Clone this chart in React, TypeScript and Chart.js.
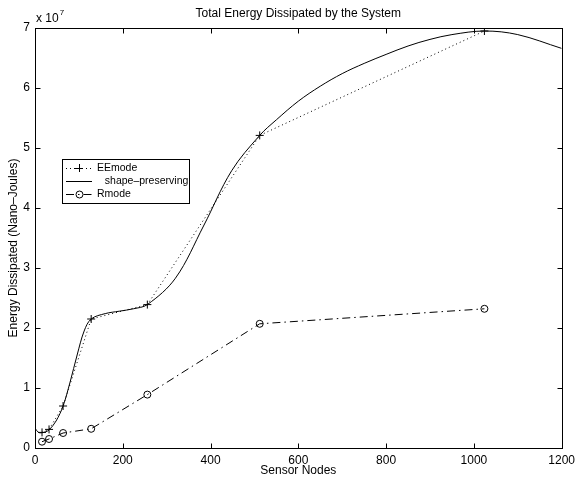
import React, { useEffect, useRef } from "react";
import { Chart, registerables } from "chart.js";

Chart.register(...registerables);

// Sensor node counts (x) and energies (Nano-Joules)
const nodes = [16, 32, 64, 128, 256, 512, 1024];
const eeMode = [2.6e6, 3.1e6, 7.0e6, 2.15e7, 2.39e7, 5.21e7, 6.95e7];
const rMode = [1.05e6, 1.5e6, 2.5e6, 3.2e6, 8.9e6, 2.07e7, 2.32e7];

// Shape-preserving fit curve, samples
const fitNodes = [0, 8, 16, 24, 32, 48, 64, 80, 96, 112, 128, 160, 192, 224, 256, 320, 384, 448, 512, 550, 600, 650, 700, 750, 800, 850, 900, 950, 1024, 1100, 1200];
const fitEnergy = [3.3e6, 2.6e6, 2.55e6, 2.7e6, 3.0e6, 4.5e6, 7.0e6, 1.1e7, 1.55e7, 1.95e7, 2.15e7, 2.24e7, 2.28e7, 2.32e7, 2.39e7, 2.83e7, 3.7e7, 4.62e7, 5.21e7, 5.47e7, 5.78e7, 6.03e7, 6.24e7, 6.41e7, 6.56e7, 6.7e7, 6.81e7, 6.89e7, 6.95e7, 6.89e7, 6.66e7];

const xTickValues = [0, 200, 400, 600, 800, 1000, 1200];
const yTickValues = [0, 1e7, 2e7, 3e7, 4e7, 5e7, 6e7, 7e7];

const titleText = "Total Energy Dissipated by the System";
const xTitle = "Sensor Nodes";
const yTitle = "Energy Dissipated (Nano\u2013Joules)";
const legendLabels = ["EEmode", "  shape\u2013preserving", "Rmode"];

const FONT = "'Liberation Sans', Arial, Helvetica, sans-serif";

export default function App() {
  const ref = useRef<HTMLCanvasElement>(null);

  useEffect(() => {
    document.body.style.margin = "0";
    const canvas = ref.current!;
    const pts = (xs: number[], ys: number[]) => xs.map((x, i) => ({ x, y: ys[i] }));

    const decor = {
      id: "decor",
      afterDraw(chart: any) {
        const { ctx, chartArea: a, scales } = chart;
        const sx = scales.x;
        const sy = scales.y;
        const L = Math.round(a.left) + 0.5;
        const R = Math.round(a.right) + 0.5;
        const T = Math.round(a.top) + 0.5;
        const B = Math.round(a.bottom) + 0.5;
        ctx.save();
        ctx.setLineDash([]);
        ctx.strokeStyle = "#000";
        ctx.lineWidth = 1;
        ctx.strokeRect(L, T, R - L, B - T);
        const tl = 5;
        ctx.beginPath();
        xTickValues.slice(1, -1).forEach((v) => {
          const px = Math.round(sx.getPixelForValue(v)) + 0.5;
          ctx.moveTo(px, B);
          ctx.lineTo(px, B - tl);
          ctx.moveTo(px, T);
          ctx.lineTo(px, T + tl);
        });
        yTickValues.slice(1, -1).forEach((v) => {
          const py = Math.round(sy.getPixelForValue(v)) + 0.5;
          ctx.moveTo(L, py);
          ctx.lineTo(L + tl, py);
          ctx.moveTo(R, py);
          ctx.lineTo(R - tl, py);
        });
        ctx.stroke();

        // Titles
        ctx.fillStyle = "#000";
        ctx.font = `12px ${FONT}`;
        ctx.textAlign = "center";
        ctx.textBaseline = "middle";
        const cx = (a.left + a.right) / 2;
        ctx.fillText(titleText, cx, 14);
        ctx.fillText(xTitle, cx, 471);
        ctx.save();
        ctx.translate(14, (a.top + a.bottom) / 2 + 10);
        ctx.rotate(-Math.PI / 2);
        ctx.fillText(yTitle, 0, 0);
        ctx.restore();

        // Exponent label
        ctx.textAlign = "left";
        ctx.font = `12px ${FONT}`;
        ctx.fillText("x 10", 36, 19);
        const w = ctx.measureText("x 10").width;
        ctx.font = `8px ${FONT}`;
        ctx.fillText("7", 36 + w + 1, 13);

        // Legend
        const bx = 62.5, by = 159.5, bw = 127, bh = 44;
        ctx.fillStyle = "#fff";
        ctx.fillRect(bx, by, bw, bh);
        ctx.strokeStyle = "#000";
        ctx.strokeRect(bx, by, bw, bh);
        const rows = [168, 181, 194];
        const lx0 = 66, lx1 = 92, mx = 79;
        ctx.lineWidth = 1;
        ctx.setLineDash([1, 3]);
        ctx.beginPath();
        ctx.moveTo(lx0, rows[0] + 0.5);
        ctx.lineTo(lx1, rows[0] + 0.5);
        ctx.stroke();
        ctx.setLineDash([]);
        ctx.beginPath();
        ctx.moveTo(mx - 4, rows[0] + 0.5);
        ctx.lineTo(mx + 4, rows[0] + 0.5);
        ctx.moveTo(mx + 0.5, rows[0] - 4);
        ctx.lineTo(mx + 0.5, rows[0] + 4);
        ctx.stroke();
        ctx.beginPath();
        ctx.moveTo(lx0, rows[1] + 0.5);
        ctx.lineTo(lx1, rows[1] + 0.5);
        ctx.stroke();
        ctx.setLineDash([8, 4, 1.5, 4]);
        ctx.beginPath();
        ctx.moveTo(lx0, rows[2] + 0.5);
        ctx.lineTo(lx1, rows[2] + 0.5);
        ctx.stroke();
        ctx.setLineDash([]);
        ctx.beginPath();
        ctx.arc(mx + 0.5, rows[2] + 0.5, 3.5, 0, Math.PI * 2);
        ctx.stroke();

        ctx.fillStyle = "#000";
        ctx.font = `10.5px ${FONT}`;
        ctx.textAlign = "left";
        ctx.fillText(legendLabels[0], 97, rows[0] + 0.5);
        ctx.fillText(legendLabels[1], 99, rows[1] + 0.5);
        ctx.fillText(legendLabels[2], 97, rows[2] + 0.5);
        ctx.restore();
      },
    };

    const tickFont = { size: 12, family: FONT };

    const chart = new Chart(canvas, {
      type: "scatter",
      data: {
        datasets: [
          {
            label: "EEmode",
            data: pts(nodes, eeMode),
            showLine: true,
            borderColor: "#000",
            borderWidth: 1,
            borderDash: [1, 3],
            tension: 0,
            pointStyle: "cross",
            pointRadius: 4,
            pointBorderWidth: 1,
            pointBorderColor: "#000",
            backgroundColor: "rgba(0,0,0,0)",
          },
          {
            label: "shape-preserving",
            data: pts(fitNodes, fitEnergy),
            showLine: true,
            borderColor: "#000",
            borderWidth: 1,
            pointRadius: 0,
            tension: 0.35,
            backgroundColor: "rgba(0,0,0,0)",
          },
          {
            label: "Rmode",
            data: pts(nodes, rMode),
            showLine: true,
            borderColor: "#000",
            borderWidth: 1,
            borderDash: [8, 4, 1.5, 4],
            tension: 0,
            pointStyle: "circle",
            pointRadius: 3.5,
            pointBorderWidth: 1,
            pointBorderColor: "#000",
            pointBackgroundColor: "rgba(0,0,0,0)",
            backgroundColor: "rgba(0,0,0,0)",
          },
        ],
      },
      options: {
        responsive: false,
        animation: false,
        events: [],
        layout: { padding: { top: 28, right: 14, left: 0, bottom: 0 } },
        plugins: {
          legend: { display: false },
          title: { display: false },
          tooltip: { enabled: false },
        },
        scales: {
          x: {
            type: "linear",
            min: 0,
            max: 1200,
            afterBuildTicks: (s: any) => {
              s.ticks = xTickValues.map((v) => ({ value: v }));
            },
            ticks: {
              color: "#000",
              font: tickFont,
              padding: 5,
              maxRotation: 0,
              autoSkip: false,
              callback: (v: any) => String(v),
            },
            grid: { display: false, drawTicks: false },
            border: { display: false },
            afterFit: (s: any) => {
              s.height = 30;
            },
          },
          y: {
            type: "linear",
            min: 0,
            max: 7e7,
            afterBuildTicks: (s: any) => {
              s.ticks = yTickValues.map((v) => ({ value: v }));
            },
            ticks: {
              color: "#000",
              font: tickFont,
              padding: 5,
              autoSkip: false,
              callback: (v: any) => String(Math.round(Number(v) / 1e7)),
            },
            grid: { display: false, drawTicks: false },
            border: { display: false },
            afterFit: (s: any) => {
              s.width = 35;
            },
          },
        },
      },
      plugins: [decor],
    } as any);

    return () => chart.destroy();
  }, []);

  return <canvas ref={ref} width={580} height={478} style={{ display: "block" }} />;
}
